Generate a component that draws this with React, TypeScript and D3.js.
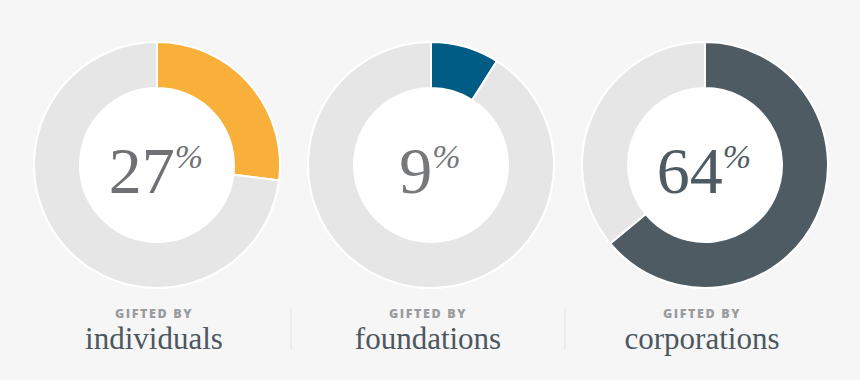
import React from "react";
import * as d3 from "d3";

const categories = ["individuals", "foundations", "corporations"];
const shares = [27, 9, 64];
const captionPrefix = "GIFTED BY";

const segColors = ["#f8b03a", "#005c84", "#4f5b63"];
const numColors = ["#6f7175", "#76787c", "#4f5b63"];

const W = 860;
const H = 380;
const centers = [157, 432, 705];
const cy = 165;
const outerR = 123;
const innerR = 77;

export default function App() {
  const pie = d3.pie<number>().sort(null).value((d) => d);
  const arc = d3.arc<d3.PieArcDatum<number>>().innerRadius(innerR).outerRadius(outerR);
  const x = d3.scalePoint<string>().domain(categories).range([centers[0], centers[2]]);

  return (
    <svg
      width={W}
      height={H}
      style={{ position: "absolute", left: 0, top: 0, display: "block" }}
    >
      <rect width={W} height={H} fill="#f6f6f6" />
      {categories.map((c, i) => {
        const cx = x(c) as number;
        const arcs = pie([shares[i], 100 - shares[i]]);
        return (
          <g key={c}>
            <g transform={`translate(${cx},${cy})`}>
              <circle r={outerR + 1} fill="#ffffff" />
              {arcs.map((a, j) => (
                <path
                  key={j}
                  d={arc(a) || ""}
                  fill={j === 0 ? segColors[i] : "#e6e6e6"}
                  stroke="#ffffff"
                  strokeWidth={2}
                />
              ))}
              <circle r={innerR} fill="#ffffff" />
              <text
                x={-1}
                y={28}
                textAnchor="middle"
                fontFamily="'Liberation Serif', serif"
                fill={numColors[i]}
              >
                <tspan fontSize={66}>{shares[i]}</tspan>
                <tspan fontSize={34} dy={-25} fontStyle="italic">%</tspan>
              </text>
            </g>
            <text
              x={cx - 3}
              y={317.5}
              textAnchor="middle"
              fontFamily="'Open Sans', 'DejaVu Sans', sans-serif"
              fontWeight={800}
              fontSize={12.5}
              letterSpacing={1.6}
              fill="#9a9c9f"
            >
              {captionPrefix}
            </text>
            <text
              x={cx - 3}
              y={349}
              textAnchor="middle"
              fontFamily="'Liberation Serif', serif"
              fontSize={31}
              fill="#4d5760"
            >
              {c}
            </text>
          </g>
        );
      })}
      {[0, 1].map((k) => {
        const mx = ((x(categories[k]) as number) + (x(categories[k + 1]) as number)) / 2 - 3;
        return (
          <line
            key={k}
            x1={mx}
            x2={mx}
            y1={308}
            y2={350}
            stroke="#e3e3e3"
            strokeWidth={1}
          />
        );
      })}
    </svg>
  );
}
